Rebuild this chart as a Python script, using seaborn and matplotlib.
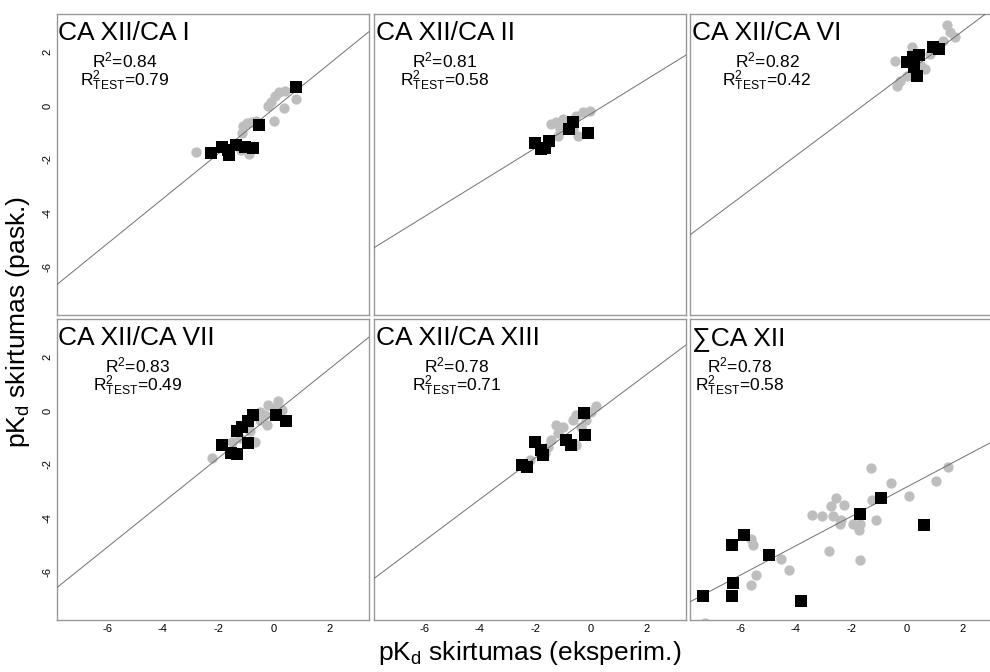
import matplotlib
matplotlib.use("Agg")
import matplotlib.pyplot as plt
import seaborn as sns

# Duomenys: pilki apskritimai (mokymo aibe) ir juodi kvadratai (testo aibe)
ca1_train_x = [-2.8, -1.6, -1.2, -1.1, -0.95, -0.8, -0.65, -1.15, -0.9, 0.0, -0.2, -0.1, 0.05, 0.2, 0.4, 0.35, 0.8]
ca1_train_y = [-1.72, -1.85, -1.65, -0.75, -0.65, -0.6, -0.55, -1.0, -1.78, -0.55, 0.0, 0.15, 0.35, 0.5, 0.55, -0.1, 0.25]
ca1_test_x = [-2.25, -1.85, -1.6, -1.65, -1.35, -1.05, -0.75, -0.55, 0.8]
ca1_test_y = [-1.75, -1.55, -1.85, -1.65, -1.45, -1.52, -1.56, -0.72, 0.7]

ca2_train_x = [-1.6, -1.42, -1.24, -1.18, -1.12, -1.0, -0.64, -0.52, -0.46, -0.28, -0.04, -0.8]
ca2_train_y = [-1.5, -0.69, -0.62, -1.12, -0.87, -0.5, -0.87, -0.37, -1.12, -0.25, -0.19, -0.6]
ca2_test_x = [-2.02, -1.8, -1.65, -1.52, -0.8, -0.65, -0.1]
ca2_test_y = [-1.4, -1.62, -1.58, -1.32, -0.85, -0.6, -1.02]

ca6_train_x = [1.43, 1.55, 1.73, 1.31, -0.42, 0.18, 0.65, -0.24, -0.36, 0.0, 0.83, 0.5]
ca6_train_y = [3.0, 2.74, 2.55, 2.43, 1.68, 2.18, 1.37, 0.93, 0.75, 1.12, 1.93, 1.5]
ca6_test_x = [0.0, 0.25, 0.22, 0.45, 0.35, 0.95, 1.15]
ca6_test_y = [1.62, 1.45, 1.81, 1.9, 1.1, 2.18, 2.1]

ca7_train_x = [-2.23, -1.51, -0.68, -0.5, -0.2, 0.16, -0.32, -0.5, -0.26, 0.28, -0.86, -1.22, 0.0]
ca7_train_y = [-1.75, -1.15, -1.15, -0.03, 0.22, 0.35, -0.15, -0.34, -0.52, 0.04, -0.77, -1.02, 0.1]
ca7_test_x = [-1.85, -1.56, -1.32, -0.92, -1.34, -1.14, -0.92, -0.74, 0.08, 0.42]
ca7_test_y = [-1.29, -1.58, -1.62, -1.21, -0.77, -0.62, -0.38, -0.15, -0.15, -0.4]

ca13_train_x = [0.2, 0.02, -0.52, -0.64, -1.0, -1.18, -1.42, -1.54, -1.66, -2.2, -0.52, -0.34, -0.16, -1.24]
ca13_train_y = [0.16, -0.03, -0.15, -0.34, -0.59, -0.84, -1.09, -1.34, -1.58, -1.84, -1.27, -0.59, -0.34, -0.52]
ca13_test_x = [-2.47, -2.3, -2.0, -1.78, -1.74, -0.88, -0.7, -0.26, -0.2]
ca13_test_y = [-2.02, -2.1, -1.18, -1.46, -1.66, -1.1, -1.29, -0.1, -0.91]

sum_train_x = [-1.29, 1.47, 1.04, -0.57, 0.08, -1.24, -2.55, -2.73, -2.26, -3.42, -3.04, -2.67, -2.38, -2.40,
               -1.95, -1.68, -1.72, -1.12, -2.80, -1.68, -4.53, -4.23, -5.60, -5.52, -5.42, -5.60, -7.26]
sum_train_y = [-2.15, -2.09, -2.62, -2.68, -3.18, -3.31, -3.25, -3.55, -3.50, -3.90, -3.93, -3.93, -4.08, -4.21,
               -4.21, -4.23, -4.46, -4.08, -5.24, -5.58, -5.54, -5.92, -4.77, -5.02, -6.14, -6.49, -7.93]
sum_test_x = [-7.32, -6.28, -6.24, -6.28, -5.85, -4.96, -3.81, -1.68, -0.94, 0.63]
sum_test_y = [-6.92, -6.92, -6.42, -5.02, -4.64, -5.39, -7.10, -3.86, -3.25, -4.27]

titles = ["CA XII/CA I", "CA XII/CA II", "CA XII/CA VI", "CA XII/CA VII", "CA XII/CA XIII", "\u2211CA XII"]
r2 = ["0.84", "0.81", "0.82", "0.83", "0.78", "0.78"]
r2_test = ["0.79", "0.58", "0.42", "0.49", "0.71", "0.58"]
fit_slope = [0.84, 0.64, 0.775, 0.832, 0.776, 0.549]
fit_intercept = [-0.11, -0.30, 1.23, -0.10, -0.20, -2.84]
ticks = [-6, -4, -2, 0, 2]

train = [(ca1_train_x, ca1_train_y), (ca2_train_x, ca2_train_y), (ca6_train_x, ca6_train_y),
         (ca7_train_x, ca7_train_y), (ca13_train_x, ca13_train_y), (sum_train_x, sum_train_y)]
test = [(ca1_test_x, ca1_test_y), (ca2_test_x, ca2_test_y), (ca6_test_x, ca6_test_y),
        (ca7_test_x, ca7_test_y), (ca13_test_x, ca13_test_y), (sum_test_x, sum_test_y)]

sns.set_style("white")
plt.rcParams['font.family'] = ['Liberation Sans', 'DejaVu Sans']
plt.rcParams['axes.unicode_minus'] = False
plt.rcParams['text.color'] = 'black'
plt.rcParams['xtick.labelcolor'] = 'black'
plt.rcParams['ytick.labelcolor'] = 'black'

W, H = 990, 672
fig = plt.figure(figsize=(W / 100, H / 100), dpi=100)

# panelių išdėstymas pikseliais
col_left = [57, 374, 690]
row_top = [14, 319]
pw, ph = 312, 301
r2_xpix = [68, 71, 77, 81, 83, 50]

for i in range(6):
    r, c = divmod(i, 3)
    ax = fig.add_axes([col_left[c] / W, 1 - (row_top[r] + ph) / H, pw / W, ph / H])

    sns.scatterplot(x=train[i][0], y=train[i][1], ax=ax, color="#bebebe", marker="o",
                    s=55, linewidth=0, zorder=2)
    ax.axline((0, fit_intercept[i]), slope=fit_slope[i], color="#707070", lw=0.7, zorder=3)
    sns.scatterplot(x=test[i][0], y=test[i][1], ax=ax, color="black", marker="s",
                    s=85, linewidth=0, zorder=4)

    ax.set_xlim(-7.8, 3.42)
    ax.set_ylim(-7.8, 3.42)
    ax.set_xticks(ticks)
    ax.set_yticks(ticks)
    ax.tick_params(direction="in", length=4, width=0.8, color="#999999", labelcolor="black",
                   labelsize=8, pad=3)
    ax.tick_params(axis="y", labelrotation=90)
    for lab in ax.get_yticklabels():
        lab.set_va("center")
    if r == 0:
        ax.set_xticklabels([])
    if c > 0:
        ax.set_yticklabels([])
    for sp in ax.spines.values():
        sp.set_color("#999999")
        sp.set_linewidth(1.0)

    ax.text(1.5 / pw, 1 - 26 / ph, titles[i], transform=ax.transAxes, fontsize=19,
            ha="left", va="baseline", color="black")
    ax.text(r2_xpix[i] / pw, 1 - 53 / ph, r"$\mathregular{R^2}$=" + r2[i],
            transform=ax.transAxes, fontsize=12.5, ha="center", va="baseline", color="black")
    ax.text(r2_xpix[i] / pw, 1 - 72 / ph, r"$\mathregular{R^2_{TEST}}$=" + r2_test[i],
            transform=ax.transAxes, fontsize=12.5, ha="center", va="baseline", color="black")

fig.text(530 / W, 1 - 653 / H, r"p$\mathregular{K_d}$ skirtumas (eksperim.)",
         fontsize=19, ha="center", va="center", color="black")
fig.text(18 / W, 1 - 322 / H, r"p$\mathregular{K_d}$ skirtumas (pask.)",
         fontsize=19, ha="center", va="center", rotation=90, color="black")

plt.savefig("out.png", dpi=100)
